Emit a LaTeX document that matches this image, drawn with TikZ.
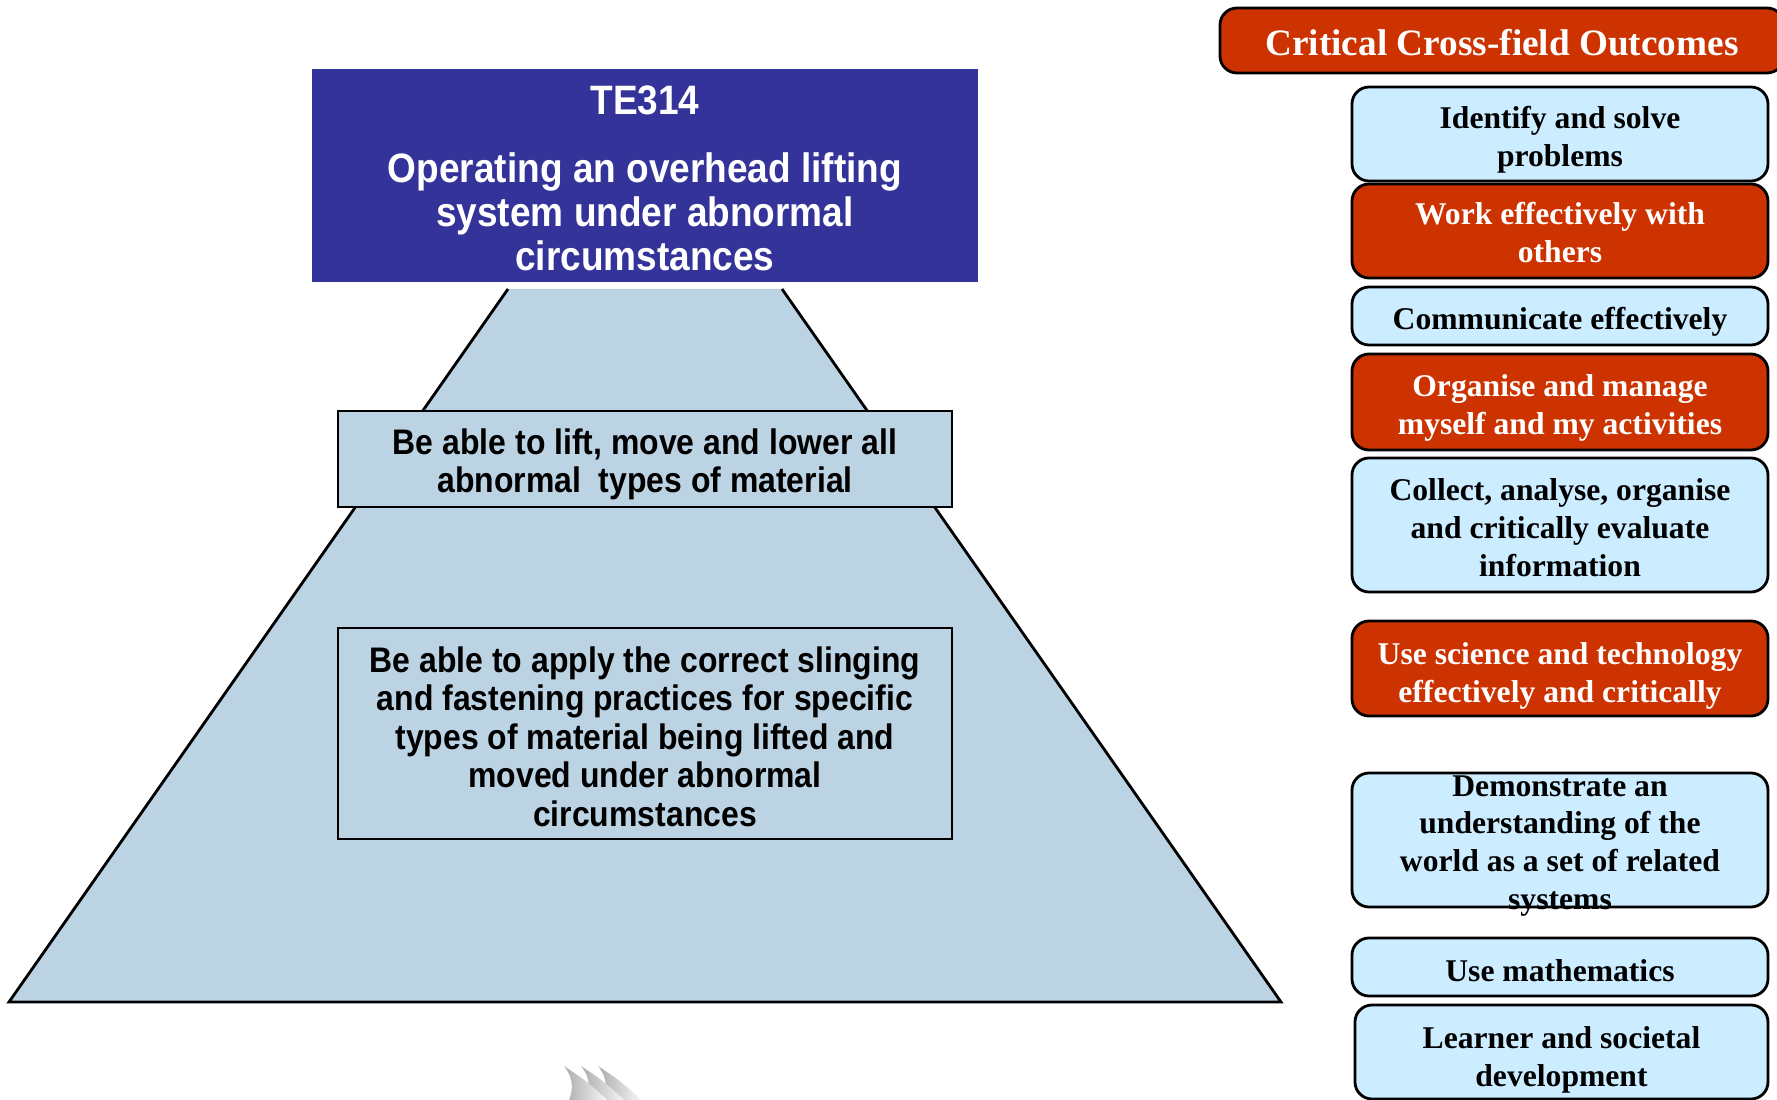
\documentclass[tikz,border=0pt]{standalone}
\usepackage{fontspec}
\newfontfamily\cfofont{Liberation Serif}
\newfontfamily\unitfont[FakeStretch=0.9]{Liberation Sans}
\usetikzlibrary{positioning}
\definecolor{unitblue}{RGB}{51,51,153}
\definecolor{cforange}{RGB}{204,51,0}
\definecolor{cfolight}{RGB}{204,236,255}
\definecolor{pyrfill}{RGB}{188,211,227}
% lines of a box, set a little lower than the middle
\newcommand\lowered[2][1.6pt]{\raisebox{-#1}[\height][\depth]{\begin{tabular}{@{}c@{}}#2\end{tabular}}}

\begin{document}
\begin{tikzpicture}[
  cfo/.style={draw=black,line width=0.8pt,rounded corners=0.17cm,fill=cfolight,minimum width=4.16cm,align=center,inner sep=0pt,font=\cfofont\bfseries\fontsize{9}{10.8}\selectfont},
  cfored/.style={cfo,fill=cforange,text=white},
  outcome/.style={draw=black,line width=0.8pt,fill=pyrfill,minimum width=6.14cm,align=center,inner sep=0pt,font=\unitfont\bfseries\fontsize{10.1}{10.95}\selectfont}
]
  \useasboundingbox (0,0) rectangle (17.77,-11);
  \clip (0,0) rectangle (17.77,-11);

  % Pyramid
  \coordinate (ptl) at (5.08,-2.89);
  \coordinate (ptr) at (7.82,-2.89);
  \coordinate (pbr) at (12.81,-10.02);
  \coordinate (pbl) at (0.09,-10.02);
  \fill[pyrfill] (ptl) -- (ptr) -- (pbr) -- (pbl) -- cycle;
  \draw[line width=0.8pt] (ptr) -- (pbr) -- (pbl) -- (ptl);

  % Unit standard title
  \node[fill=unitblue,text=white,minimum width=6.66cm,minimum height=2.13cm,align=center,inner sep=0pt,font=\unitfont\bfseries\fontsize{11.7}{12.5}\selectfont] (title) at (6.45,-1.755)
    {\lowered[2.25pt]{TE314\\[6.8pt]Operating an overhead lifting\\system under abnormal\\circumstances}};

  % Specific outcomes
  \node[outcome,minimum height=0.96cm] (so1) at (6.45,-4.59)
    {\lowered[1.9pt]{Be able to lift, move and lower all\\abnormal\ \ types of material}};
  \node[outcome,minimum height=2.11cm] (so2) at (6.45,-7.335)
    {\lowered[2.25pt]{Be able to apply the correct slinging\\and fastening practices for specific\\types of material being lifted and\\moved under abnormal\\circumstances}};

  % Faded shapes at the bottom
  \foreach \dx in {0.34,0.17,0} {
    \shade[left color=gray!65,right color=white,shading angle=90]
      (5.64+\dx,-10.66) .. controls (5.75+\dx,-10.8) and (5.73+\dx,-10.92) .. (5.67+\dx,-11.05)
      -- (6.12+\dx,-11.05) -- (6.02+\dx,-10.95) .. controls (5.85+\dx,-10.8) .. (5.64+\dx,-10.66) -- cycle;
  }

  % Critical cross-field outcomes
  \node[cfored,minimum width=5.64cm,minimum height=0.65cm,font=\cfofont\bfseries\fontsize{10.6}{12}\selectfont] (ccfo) at (15.02,-0.405) {\lowered[1.95pt]{Critical Cross-field Outcomes}};
  \node[cfo,minimum height=0.94cm] (solve) at (15.60,-1.34) {\lowered{Identify and solve\\problems}};
  \node[cfored,minimum height=0.94cm] (team) at (15.60,-2.31) {\lowered[1.5pt]{Work effectively with\\others}};
  \node[cfo,minimum height=0.58cm] (comm) at (15.60,-3.16) {\lowered{Communicate effectively}};
  \node[cfored,minimum height=0.96cm] (organise) at (15.60,-4.02) {\lowered[1.7pt]{Organise and manage\\myself and my activities}};
  \node[cfo,minimum height=1.34cm] (collect) at (15.60,-5.25) {\lowered[1.65pt]{Collect, analyse, organise\\and critically evaluate\\information}};
  \node[cfored,minimum height=0.95cm] (science) at (15.60,-6.685) {\lowered[2.1pt]{Use science and technology\\effectively and critically}};
  \node[cfo,minimum height=1.34cm] (world) at (15.60,-8.40) {};
  \node[align=center,inner sep=0pt,font=\cfofont\bfseries\fontsize{9}{10.8}\selectfont] (worldtext) at (15.60,-8.46) {Demonstrate an\\understanding of the\\world as a set of related\\systems};
  \node[cfo,minimum height=0.58cm] (maths) at (15.60,-9.67) {\lowered[1.95pt]{Use mathematics}};
  \node[cfo,minimum width=4.13cm,minimum height=0.94cm] (society) at (15.615,-10.52) {\lowered[2.3pt]{Learner and societal\\development}};
\end{tikzpicture}
\end{document}
